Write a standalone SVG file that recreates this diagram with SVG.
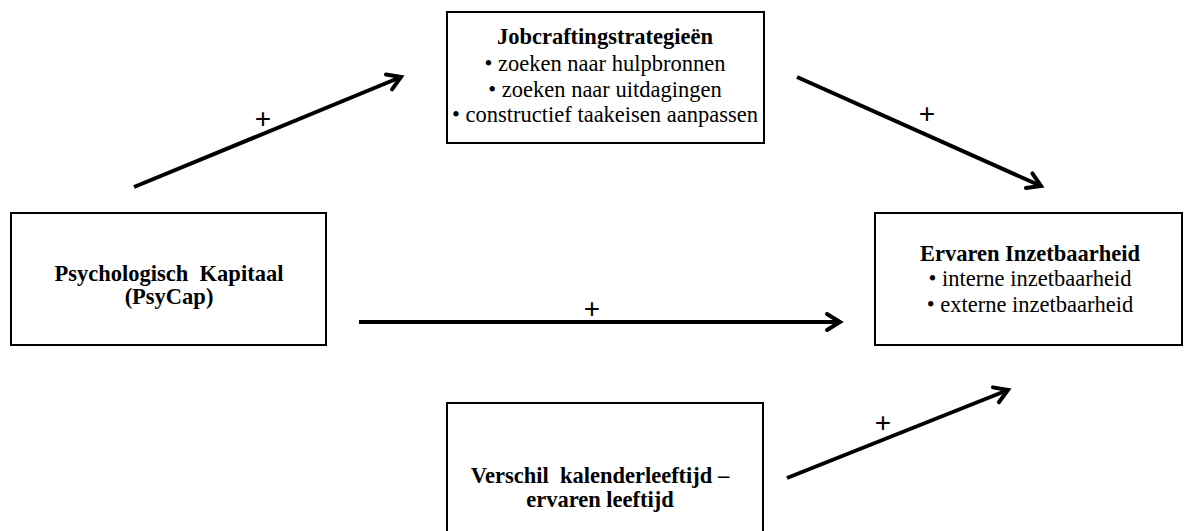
<svg xmlns="http://www.w3.org/2000/svg" width="1185" height="531" viewBox="0 0 1185 531">
<style>
.box{fill:#fff;stroke:#000;stroke-width:2}
.t{font-family:"Liberation Serif","Times New Roman",serif;font-size:22.5px;fill:#000;text-anchor:middle}
.b{font-weight:bold}
.edge{stroke:#000;stroke-width:4;fill:none}
.plus{font-family:"Liberation Sans",Arial,sans-serif;font-size:28px;fill:#000;text-anchor:middle}
</style>
<defs>
<marker id="arr" viewBox="-20 -12 24 24" refX="0" refY="0" markerWidth="24" markerHeight="24" markerUnits="userSpaceOnUse" orient="auto">
<path d="M -13 -8 L 0 0 L -13 8" fill="none" stroke="#000" stroke-width="4" stroke-linecap="round" stroke-linejoin="miter"/>
</marker>
</defs>
<rect width="1185" height="531" fill="#fff"/>
<g id="jobcrafting">
<rect class="box" x="447" y="12" width="317" height="131"/>
<text class="t b" x="605" y="44">Jobcraftingstrategieën</text>
<text class="t" x="605" y="71">• zoeken naar hulpbronnen</text>
<text class="t" x="605" y="97">• zoeken naar uitdagingen</text>
<text class="t" x="605" y="122">• constructief taakeisen aanpassen</text>
</g>
<g id="psycap">
<rect class="box" x="11" y="213" width="315" height="132"/>
<text class="t b" x="169" y="281" xml:space="preserve">Psychologisch  Kapitaal</text>
<text class="t b" x="169" y="304">(PsyCap)</text>
</g>
<g id="inzetbaarheid">
<rect class="box" x="875" y="213" width="307" height="132"/>
<text class="t b" x="1030" y="261">Ervaren Inzetbaarheid</text>
<text class="t" x="1030" y="286">• interne inzetbaarheid</text>
<text class="t" x="1030" y="312">• externe inzetbaarheid</text>
</g>
<g id="leeftijd">
<rect class="box" x="447" y="403" width="316" height="145"/>
<text class="t b" x="600" y="483" xml:space="preserve">Verschil  kalenderleeftijd –</text>
<text class="t b" x="600" y="507">ervaren leeftijd</text>
</g>
<g id="connectors">
<line class="edge" x1="134" y1="187" x2="401" y2="77" marker-end="url(#arr)"/>
<line class="edge" x1="797" y1="77" x2="1041" y2="186" marker-end="url(#arr)"/>
<line class="edge" x1="359" y1="322" x2="840" y2="322" marker-end="url(#arr)"/>
<line class="edge" x1="787" y1="478" x2="1008" y2="390" marker-end="url(#arr)"/>
<text class="plus" x="263" y="128">+</text>
<text class="plus" x="927" y="123">+</text>
<text class="plus" x="592" y="318">+</text>
<text class="plus" x="883" y="432">+</text>
</g>
</svg>
